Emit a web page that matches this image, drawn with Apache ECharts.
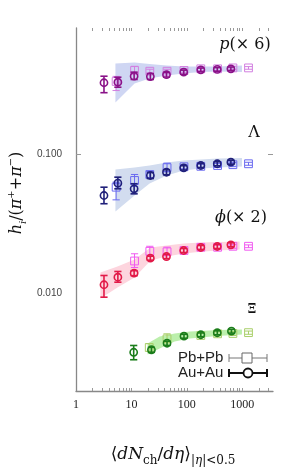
<!DOCTYPE html>
<html><head><meta charset="utf-8">
<script src="https://cdn.jsdelivr.net/npm/echarts@6/dist/echarts.min.js"></script>
<style>html,body{margin:0;padding:0;background:#fff}#c{width:308px;height:470px}</style>
</head><body><div id="c"></div>
<script>
// ---- tick / label values ----
const xTickVals = [2,3,4,5,6,7,8,9,10,20,30,40,50,60,70,80,90,100,200,300,400,500,600,700,800,900,1000,2000,3000];
const xLabelVals = [1,10,100,1000];
const yLabelVals = [0.01,0.1];
const yTickVals = [0.1];

// ---- p (x6) ----
const pAA_x  = [3.2,5.7,11.2,22,43,88,179,355,625];
const pAA_y  = [0.324,0.327,0.361,0.359,0.370,0.386,0.401,0.404,0.408];
const pAA_lo = [0.275,0.301,0.342,0.342,0.356,0.373,0.389,0.392,0.396];
const pAA_hi = [0.361,0.355,0.386,0.377,0.384,0.399,0.413,0.416,0.420];
const pPb_x  = [5.3,11.4,21.5,44,89,179,360,680,1300];
const pPb_y  = [0.331,0.397,0.392,0.392,0.397,0.408,0.408,0.414,0.414];
const pPb_lo = [0.285,0.380,0.380,0.380,0.385,0.396,0.396,0.402,0.405];
const pPb_hi = [0.360,0.425,0.405,0.405,0.410,0.420,0.420,0.426,0.423];
const pBand_x  = [5.15,11.4,21.3,43.3,88,179,363,990];
const pBand_lo = [0.234,0.320,0.348,0.365,0.378,0.387,0.390,0.387];
const pBand_hi = [0.445,0.453,0.442,0.431,0.424,0.424,0.424,0.431];

// ---- Lambda ----
const lAA_x  = [3.2,5.7,11.2,22,43,88,179,355,625];
const lAA_y  = [0.0504,0.0618,0.0563,0.0701,0.0740,0.0796,0.0827,0.0851,0.0873];
const lAA_lo = [0.0440,0.0563,0.0518,0.0667,0.0710,0.0768,0.0800,0.0823,0.0845];
const lAA_hi = [0.0578,0.0682,0.0612,0.0737,0.0771,0.0824,0.0855,0.0879,0.0901];
const lPb_x  = [5.3,11.4,21.5,44,89,179,360,680,1300];
const lPb_y  = [0.0578,0.0646,0.0713,0.0798,0.0810,0.0816,0.0827,0.0838,0.0851];
const lPb_lo = [0.0469,0.0585,0.0678,0.0745,0.0783,0.0789,0.0800,0.0811,0.0830];
const lPb_hi = [0.0628,0.0713,0.0750,0.0860,0.0838,0.0844,0.0855,0.0866,0.0872];
const lBand_x  = [5.15,11.4,21.3,43.3,88,179,363,990];
const lBand_lo = [0.0387,0.0504,0.0615,0.0701,0.0762,0.0787,0.0800,0.0814];
const lBand_hi = [0.0774,0.0800,0.0827,0.0869,0.0898,0.0913,0.0928,0.0936];

// ---- phi (x2) ----
const fAA_x  = [3.2,5.7,11.2,22,43,88,179,355,625];
const fAA_y  = [0.01155,0.01309,0.01398,0.01791,0.01841,0.02033,0.02137,0.02172,0.02234];
const fAA_lo = [0.00941,0.01205,0.01342,0.01733,0.01781,0.01967,0.02067,0.02101,0.02161];
const fAA_hi = [0.01346,0.01438,0.01457,0.01851,0.01903,0.02101,0.02209,0.02245,0.02309];
const fPb_x  = [11.4,21.5,44,89,179,360,680,1300];
const fPb_y  = [0.0171,0.02006,0.0199,0.02033,0.02144,0.02144,0.0218,0.0218];
const fPb_lo = [0.01536,0.01880,0.01870,0.01967,0.02074,0.02074,0.02109,0.02130];
const fPb_hi = [0.01926,0.02180,0.02150,0.02101,0.02216,0.02216,0.02253,0.02230];
const fBand_x  = [2.76,5.6,11.4,22.2,43.3,88,179,363,900];
const fBand_lo = [0.00921,0.01104,0.01302,0.01724,0.01841,0.01936,0.01990,0.02033,0.02067];
const fBand_hi = [0.01414,0.01562,0.01753,0.02137,0.02208,0.02283,0.02320,0.02339,0.02359];

// ---- Xi ----
const xAA_x  = [11,23,44,89,179,355,640];
const xAA_y  = [0.00379,0.00395,0.00440,0.00494,0.00506,0.00523,0.00537];
const xAA_lo = [0.00335,0.00379,0.00425,0.00478,0.00490,0.00506,0.00520];
const xAA_hi = [0.00424,0.00411,0.00455,0.00510,0.00522,0.00540,0.00554];
const xPb_x  = [21,44,179,360,680,1300];
const xPb_y  = [0.00410,0.00473,0.00500,0.00514,0.00517,0.00524];
const xPb_lo = [0.00385,0.00445,0.00484,0.00497,0.00500,0.00510];
const xPb_hi = [0.00437,0.00514,0.00517,0.00531,0.00534,0.00538];
const xBand_x  = [19.6,32.3,60.4,113,179,363,990];
const xBand_lo = [0.00365,0.00403,0.00453,0.00476,0.00484,0.00496,0.00508];
const xBand_hi = [0.00438,0.00492,0.00517,0.00534,0.00538,0.00547,0.00552];

const SERIF = "'DejaVu Serif','Liberation Serif',serif";

function bandSeries(xs, lo, hi, color) {
  return {
    type: 'custom', z: 1, silent: true,
    data: xs.map((x, i) => [x, lo[i], hi[i]]),
    encode: {x: 0, y: [1, 2]},
    renderItem: function (params, api) {
      if (params.dataIndex !== 0) return;
      const pts = [];
      for (let i = 0; i < xs.length; i++) pts.push(api.coord([xs[i], hi[i]]));
      for (let i = xs.length - 1; i >= 0; i--) pts.push(api.coord([xs[i], lo[i]]));
      return {type: 'polygon', shape: {points: pts}, style: {fill: color}};
    }
  };
}

function errSeries(xs, ys, lo, hi, color, kind) {
  const lw = kind === 'circle' ? 1.6 : 1;
  const size = kind === 'circle' ? 3.6 : 3.9;
  const capW = 3.6;
  return {
    type: 'custom', z: kind === 'circle' ? 4 : 3, silent: true,
    data: xs.map((x, i) => [x, ys[i], lo[i], hi[i]]),
    encode: {x: 0, y: 1},
    renderItem: function (params, api) {
      const x = api.value(0), y = api.value(1), l = api.value(2), h = api.value(3);
      const c = api.coord([x, y]), a = api.coord([x, l]), b = api.coord([x, h]);
      const st = {stroke: color, lineWidth: lw, fill: 'none'};
      const ch = [
        {type: 'line', shape: {x1: c[0], y1: a[1], x2: c[0], y2: b[1]}, style: st},
        {type: 'line', shape: {x1: c[0] - capW, y1: a[1], x2: c[0] + capW, y2: a[1]}, style: st},
        {type: 'line', shape: {x1: c[0] - capW, y1: b[1], x2: c[0] + capW, y2: b[1]}, style: st}
      ];
      if (kind === 'circle') ch.push({type: 'circle', shape: {cx: c[0], cy: c[1], r: size}, style: st});
      else ch.push({type: 'rect', shape: {x: c[0] - size, y: c[1] - size, width: 2 * size, height: 2 * size}, style: st});
      return {type: 'group', children: ch};
    }
  };
}

const chart = echarts.init(document.getElementById('c'), null, {renderer: 'canvas'});
const option = {
  animation: false,
  backgroundColor: '#fff',
  grid: {left: 76, right: 35, top: 28, bottom: 79, containLabel: false, outerBoundsMode: 'none'},
  xAxis: [
    {type: 'log', logBase: 10, min: 1, max: 3600, position: 'bottom',
     axisLine: {show: true, lineStyle: {color: '#888', width: 1.3}},
     axisTick: {show: true, inside: true, length: 3, customValues: xTickVals, lineStyle: {color: '#999'}},
     axisLabel: {show: true, customValues: xLabelVals, margin: 8, fontFamily: "'Liberation Serif',serif", fontSize: 12, color: '#222',
                 formatter: v => String(v)},
     splitLine: {show: false}, minorTick: {show: false}},
    {type: 'log', logBase: 10, min: 1, max: 3600, position: 'top',
     axisLine: {show: false},
     axisTick: {show: true, inside: true, length: 3, customValues: xTickVals, lineStyle: {color: '#999'}},
     axisLabel: {show: false}, splitLine: {show: false}}
  ],
  yAxis: [
    {type: 'log', logBase: 10, min: 0.002, max: 0.8, position: 'left',
     axisLine: {show: true, lineStyle: {color: '#888', width: 1.3}},
     axisTick: {show: true, inside: true, length: 5, customValues: yTickVals, lineStyle: {color: '#999'}},
     axisLabel: {show: true, customValues: yLabelVals, margin: 14, fontFamily: "'Liberation Sans',sans-serif", fontSize: 10, color: '#444',
                 formatter: v => Number(v).toFixed(3)},
     splitLine: {show: false}},
    {type: 'log', logBase: 10, min: 0.002, max: 0.8, position: 'right',
     axisLine: {show: false},
     axisTick: {show: true, inside: true, length: 5, customValues: yTickVals, lineStyle: {color: '#999'}},
     axisLabel: {show: false}, splitLine: {show: false}}
  ],
  series: [
    bandSeries(pBand_x, pBand_lo, pBand_hi, '#cfd6f3'),
    bandSeries(lBand_x, lBand_lo, lBand_hi, '#d2dcef'),
    bandSeries(fBand_x, fBand_lo, fBand_hi, '#fdd5de'),
    bandSeries(xBand_x, xBand_lo, xBand_hi, '#bcefac'),
    errSeries(pPb_x, pPb_y, pPb_lo, pPb_hi, '#d27fe0', 'square'),
    errSeries(lPb_x, lPb_y, lPb_lo, lPb_hi, '#6a6af0', 'square'),
    errSeries(fPb_x, fPb_y, fPb_lo, fPb_hi, '#f05af0', 'square'),
    errSeries(xPb_x, xPb_y, xPb_lo, xPb_hi, '#a9cf6a', 'square'),
    errSeries(pAA_x, pAA_y, pAA_lo, pAA_hi, '#8a1288', 'circle'),
    errSeries(lAA_x, lAA_y, lAA_lo, lAA_hi, '#20207a', 'circle'),
    errSeries(fAA_x, fAA_y, fAA_lo, fAA_hi, '#e21a48', 'circle'),
    errSeries(xAA_x, xAA_y, xAA_lo, xAA_hi, '#1b7d1b', 'circle')
  ],
  graphic: [
    // species labels
    {type: 'text', x: 245, y: 45, z: 10, style: {text: '{i|p}{r|(× 6)}', align: 'center', verticalAlign: 'middle',
      rich: {i: {fontFamily: SERIF, fontStyle: 'italic', fontSize: 16, fill: '#111'}, r: {fontFamily: SERIF, fontSize: 16, fill: '#111'}}}},
    {type: 'text', x: 254, y: 133, z: 10, style: {text: 'Λ', align: 'center', verticalAlign: 'middle', font: "16px " + SERIF, fill: '#111'}},
    {type: 'text', x: 241, y: 218, z: 10, style: {text: '{i|ϕ}{r|(× 2)}', align: 'center', verticalAlign: 'middle',
      rich: {i: {fontFamily: SERIF, fontStyle: 'italic', fontSize: 16, fill: '#111'}, r: {fontFamily: SERIF, fontSize: 16, fill: '#111'}}}},
    {type: 'text', x: 252, y: 310, z: 10, style: {text: 'Ξ', align: 'center', verticalAlign: 'middle', font: "bold 12px " + SERIF, fill: '#111'}},
    // legend
    {type: 'text', x: 178, y: 358, z: 10, style: {text: 'Pb+Pb', align: 'left', verticalAlign: 'middle', font: "15px 'Liberation Sans',sans-serif", fill: '#222'}},
    {type: 'line', z: 10, shape: {x1: 229, y1: 358, x2: 267, y2: 358}, style: {stroke: '#777', lineWidth: 1}},
    {type: 'line', z: 10, shape: {x1: 229, y1: 354, x2: 229, y2: 362}, style: {stroke: '#777', lineWidth: 1}},
    {type: 'line', z: 10, shape: {x1: 267, y1: 354, x2: 267, y2: 362}, style: {stroke: '#777', lineWidth: 1}},
    {type: 'rect', z: 11, shape: {x: 242, y: 353, width: 10, height: 10}, style: {stroke: '#666', fill: '#fff', lineWidth: 1}},
    {type: 'text', x: 178, y: 373, z: 10, style: {text: 'Au+Au', align: 'left', verticalAlign: 'middle', font: "15px 'Liberation Sans',sans-serif", fill: '#222'}},
    {type: 'line', z: 10, shape: {x1: 229, y1: 373, x2: 267, y2: 373}, style: {stroke: '#111', lineWidth: 2}},
    {type: 'line', z: 10, shape: {x1: 229, y1: 369, x2: 229, y2: 377}, style: {stroke: '#111', lineWidth: 2}},
    {type: 'line', z: 10, shape: {x1: 267, y1: 369, x2: 267, y2: 377}, style: {stroke: '#111', lineWidth: 2}},
    {type: 'circle', z: 11, shape: {cx: 248, cy: 373, r: 4.5}, style: {stroke: '#111', fill: '#fff', lineWidth: 1.8}},
    // y axis title
    {type: 'text', x: 17, y: 193, rotation: Math.PI / 2, z: 10, style: {
      text: '{i|h}{sb|i}{r|/(}{i|π}{sp|+}{r|+}{i|π}{sp|−}{r|)}', align: 'center', verticalAlign: 'middle',
      rich: {
        i: {fontFamily: SERIF, fontStyle: 'italic', fontSize: 16, lineHeight: 22, fill: '#111'},
        r: {fontFamily: SERIF, fontSize: 16, lineHeight: 22, fill: '#111'},
        sb: {fontFamily: SERIF, fontStyle: 'italic', fontSize: 10, lineHeight: 10, verticalAlign: 'bottom', fill: '#111'},
        sp: {fontFamily: SERIF, fontSize: 10, lineHeight: 10, verticalAlign: 'top', fill: '#111'}
      }}},
    // x axis title
    {type: 'text', x: 173, y: 455, z: 10, style: {
      text: '{r|⟨}{i|dN}{s|ch}{r|/}{i|dη}{r|⟩}{s||}{si|η}{s||<0.5}', align: 'center', verticalAlign: 'middle',
      rich: {
        i: {fontFamily: SERIF, fontStyle: 'italic', fontSize: 17, lineHeight: 24, fill: '#111'},
        r: {fontFamily: SERIF, fontSize: 17, lineHeight: 24, fill: '#111'},
        s: {fontFamily: SERIF, fontSize: 12, lineHeight: 12, verticalAlign: 'bottom', fill: '#111'},
        si: {fontFamily: SERIF, fontStyle: 'italic', fontSize: 12, lineHeight: 12, verticalAlign: 'bottom', fill: '#111'}
      }}}
  ]
};
chart.setOption(option);
</script></body></html>
